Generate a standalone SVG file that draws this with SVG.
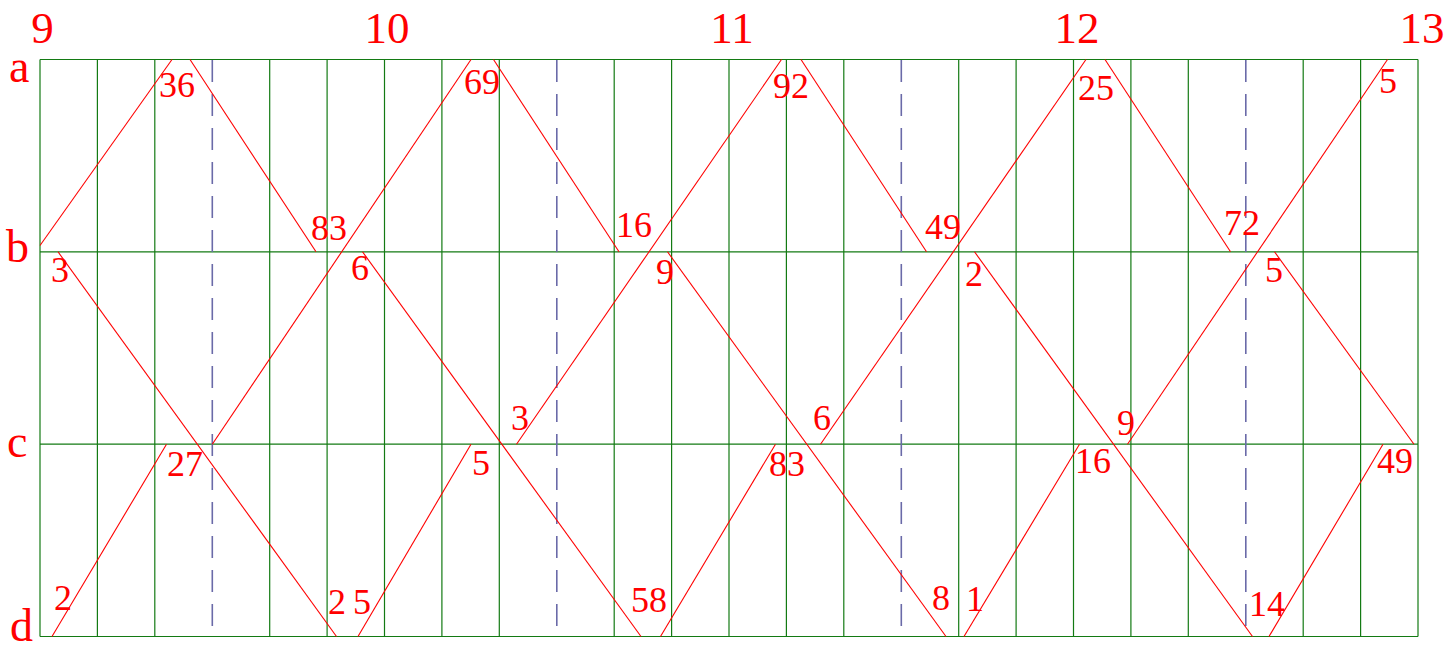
<svg xmlns="http://www.w3.org/2000/svg" width="1447" height="653" viewBox="0 0 1447 653">
<style>
.g{stroke:#137a13;stroke-width:1.2;fill:none}
.dash{stroke:#6a6aa8;stroke-width:1.6;stroke-dasharray:22 12;fill:none}
.r{stroke:#ff0000;stroke-width:1.1;fill:none}
text{font-family:"Liberation Serif","Times New Roman",serif;fill:#ff0000}
.n{font-size:36px}
.t{font-size:45px;text-anchor:middle}
.rw{font-size:46px}
</style>
<rect width="1447" height="653" fill="#ffffff"/>
<g id="grid">
<line class="g" x1="40" y1="59.5" x2="1418" y2="59.5"/>
<line class="g" x1="40" y1="251.8" x2="1418" y2="251.8"/>
<line class="g" x1="40" y1="444.2" x2="1418" y2="444.2"/>
<line class="g" x1="40" y1="636.5" x2="1418" y2="636.5"/>
<line class="g" x1="40" y1="59.5" x2="40" y2="636.5"/>
<line class="g" x1="97.4" y1="59.5" x2="97.4" y2="636.5"/>
<line class="g" x1="154.8" y1="59.5" x2="154.8" y2="636.5"/>
<line class="g" x1="269.7" y1="59.5" x2="269.7" y2="636.5"/>
<line class="g" x1="327.1" y1="59.5" x2="327.1" y2="636.5"/>
<line class="g" x1="384.5" y1="59.5" x2="384.5" y2="636.5"/>
<line class="g" x1="441.9" y1="59.5" x2="441.9" y2="636.5"/>
<line class="g" x1="499.3" y1="59.5" x2="499.3" y2="636.5"/>
<line class="g" x1="614.2" y1="59.5" x2="614.2" y2="636.5"/>
<line class="g" x1="671.6" y1="59.5" x2="671.6" y2="636.5"/>
<line class="g" x1="729" y1="59.5" x2="729" y2="636.5"/>
<line class="g" x1="786.4" y1="59.5" x2="786.4" y2="636.5"/>
<line class="g" x1="843.8" y1="59.5" x2="843.8" y2="636.5"/>
<line class="g" x1="958.7" y1="59.5" x2="958.7" y2="636.5"/>
<line class="g" x1="1016.1" y1="59.5" x2="1016.1" y2="636.5"/>
<line class="g" x1="1073.5" y1="59.5" x2="1073.5" y2="636.5"/>
<line class="g" x1="1130.9" y1="59.5" x2="1130.9" y2="636.5"/>
<line class="g" x1="1188.3" y1="59.5" x2="1188.3" y2="636.5"/>
<line class="g" x1="1303.2" y1="59.5" x2="1303.2" y2="636.5"/>
<line class="g" x1="1360.6" y1="59.5" x2="1360.6" y2="636.5"/>
<line class="g" x1="1418" y1="59.5" x2="1418" y2="636.5"/>
<line class="dash" x1="212.3" y1="60" x2="212.3" y2="636"/>
<line class="dash" x1="556.8" y1="60" x2="556.8" y2="636"/>
<line class="dash" x1="901.3" y1="60" x2="901.3" y2="636"/>
<line class="dash" x1="1245.8" y1="60" x2="1245.8" y2="636"/>
</g>
<g id="connectors">
<line class="r" x1="40" y1="245.5" x2="172" y2="59.5"/>
<line class="r" x1="190" y1="59.5" x2="316" y2="251.8"/>
<line class="r" x1="212.3" y1="444.2" x2="471" y2="59.5"/>
<line class="r" x1="58" y1="251.8" x2="336.5" y2="636.5"/>
<line class="r" x1="52" y1="636.5" x2="166.5" y2="444.2"/>
<line class="r" x1="358" y1="636.5" x2="471" y2="444.2"/>
<line class="r" x1="362.5" y1="251.8" x2="641" y2="636.5"/>
<line class="r" x1="493.5" y1="59.5" x2="619" y2="251.8"/>
<line class="r" x1="516.5" y1="444.2" x2="781.5" y2="59.5"/>
<line class="r" x1="667.5" y1="251.8" x2="946" y2="636.5"/>
<line class="r" x1="660.5" y1="636.5" x2="775.5" y2="444.2"/>
<line class="r" x1="801" y1="59.5" x2="926.5" y2="251.8"/>
<line class="r" x1="820.5" y1="444.2" x2="1086" y2="59.5"/>
<line class="r" x1="974.5" y1="251.8" x2="1252.5" y2="636.5"/>
<line class="r" x1="964" y1="636.5" x2="1079.5" y2="444.2"/>
<line class="r" x1="1105" y1="59.5" x2="1230.5" y2="251.8"/>
<line class="r" x1="1127.5" y1="444.2" x2="1387.5" y2="59.5"/>
<line class="r" x1="1274.5" y1="251.8" x2="1414" y2="444.2"/>
<line class="r" x1="1269" y1="636.5" x2="1383" y2="444.2"/>
</g>
<g id="column-labels">
<text class="t" x="42.5" y="43">9</text>
<text class="t" x="387" y="43">10</text>
<text class="t" x="732" y="43">11</text>
<text class="t" x="1077" y="43">12</text>
<text class="t" x="1422" y="43">13</text>
</g>
<g id="row-labels">
<text class="rw" x="9" y="82">a</text>
<text class="rw" x="6" y="262">b</text>
<text class="rw" x="7" y="457">c</text>
<text class="rw" x="10" y="641" font-size="42px">d</text>
</g>
<g id="labels" class="n">
<text x="159" y="97">36</text>
<text x="311" y="240">83</text>
<text x="51" y="282">3</text>
<text x="351" y="280">6</text>
<text x="167" y="476">27</text>
<text x="54" y="610">2</text>
<text x="328" y="614">2</text>
<text x="353" y="614">5</text>
<text x="472" y="475">5</text>
<text x="511" y="430">3</text>
<text x="464" y="94">69</text>
<text x="616" y="237">16</text>
<text x="656" y="284">9</text>
<text x="631" y="612">58</text>
<text x="769" y="476">83</text>
<text x="773" y="98">92</text>
<text x="813" y="430">6</text>
<text x="925" y="239">49</text>
<text x="965" y="286">2</text>
<text x="932" y="610">8</text>
<text x="966" y="611">1</text>
<text x="1078" y="100">25</text>
<text x="1075" y="473">16</text>
<text x="1117" y="435">9</text>
<text x="1224" y="235">72</text>
<text x="1265" y="282">5</text>
<text x="1379" y="93">5</text>
<text x="1377" y="473">49</text>
<text x="1249" y="616">14</text>
</g>
</svg>
